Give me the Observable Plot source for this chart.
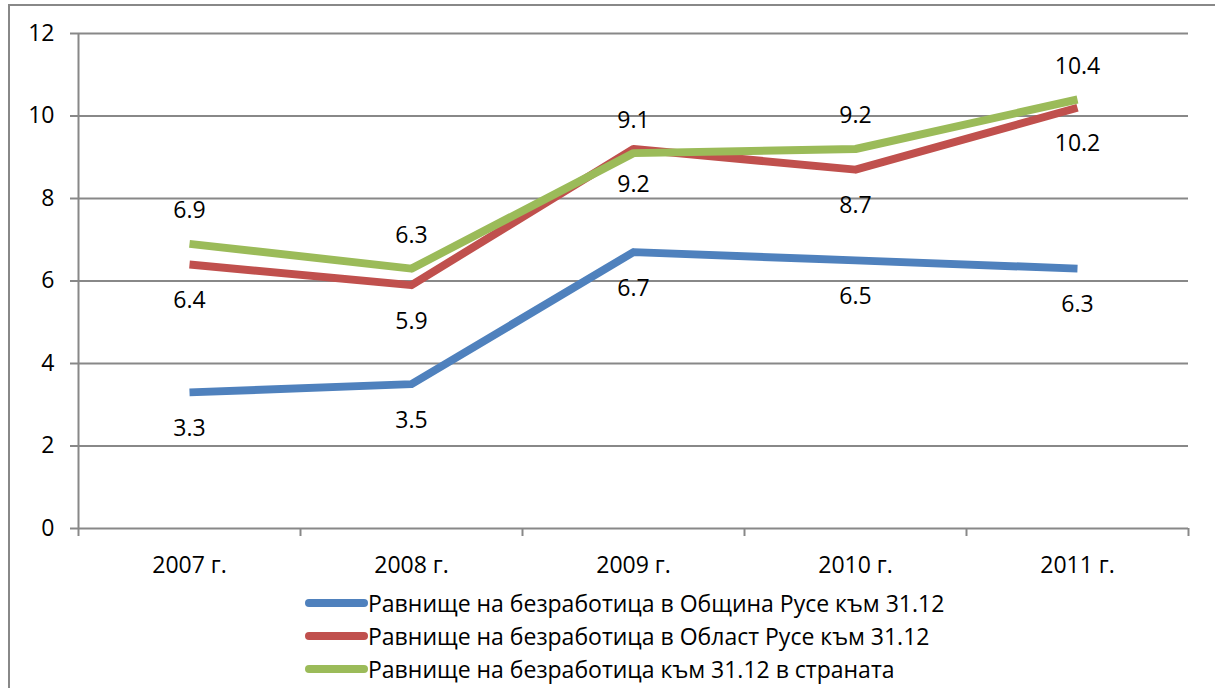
<!DOCTYPE html>
<html>
<head>
<meta charset="utf-8">
<script src="https://cdn.jsdelivr.net/npm/d3@7"></script>
<script src="https://cdn.jsdelivr.net/npm/@observablehq/plot@0.6"></script>
<style>
  html, body { margin: 0; padding: 0; background: #fff; }
  body { position: relative; width: 1215px; height: 688px; overflow: hidden; font-family: "Open Sans", sans-serif; }
  #frame { position: absolute; left: 8px; top: 4px; width: 1400px; height: 900px; border: 2px solid #888; box-sizing: border-box; }
  #chart { position: absolute; left: 0; top: 0; }
  #legend { position: absolute; left: 305px; top: 586px; }
  .row { display: flex; align-items: center; height: 33px; font-size: 23px; color: #000; white-space: nowrap; }
  .sw { width: 63px; height: 8px; border-radius: 4px; margin-right: 0; }
</style>
</head>
<body>
<div id="frame"></div>
<div id="chart"></div>
<div id="legend"></div>
<script>
const categories = ["2007 г.", "2008 г.", "2009 г.", "2010 г.", "2011 г."];
const seriesNames = [
  "Равнище на безработица в Община Русе към 31.12",
  "Равнище на безработица в Област Русе към 31.12",
  "Равнище на безработица към 31.12 в страната"
];
const obshtina = [3.3, 3.5, 6.7, 6.5, 6.3];
const oblast = [6.4, 5.9, 9.2, 8.7, 10.2];
const country = [6.9, 6.3, 9.1, 9.2, 10.4];
const colors = ["#4F81BD", "#C0504D", "#9BBB59"];
const yTicks = [0, 2, 4, 6, 8, 10, 12];

const allSeries = [obshtina, oblast, country];
const rows = [];
allSeries.forEach((vals, s) => vals.forEach((v, i) => rows.push({s, i, v})));

const gray = "#888";
const boundaries = d3.range(-0.5, categories.length, 1);

const chart = Plot.plot({
  width: 1215,
  height: 585,
  marginLeft: 78,
  marginRight: 27,
  marginTop: 33,
  marginBottom: 57,
  style: {fontFamily: "'Open Sans', sans-serif", fontSize: "23px", color: "#000", background: "transparent"},
  x: {type: "linear", domain: [-0.5, categories.length - 0.5], label: null},
  y: {domain: [0, 12], label: null},
  marks: [
    Plot.gridY(yTicks, {stroke: gray, strokeOpacity: 1, strokeWidth: 2}),
    Plot.ruleX([-0.5], {stroke: gray, strokeWidth: 2}),
    Plot.axisY({ticks: yTicks, tickSize: 8, tickPadding: 16, stroke: gray, strokeWidth: 2, fill: "#000", label: null, tickFormat: d => d}),
    Plot.axisX({ticks: boundaries, tickSize: 8, tickFormat: () => "", stroke: gray, strokeWidth: 2, label: null}),
    Plot.axisX({ticks: d3.range(categories.length), tickSize: 0, tickPadding: 28, fill: "#000", label: null, tickFormat: i => categories[i]}),
    ...allSeries.map((vals, s) =>
      Plot.line(rows.filter(d => d.s === s), {x: "i", y: "v", stroke: colors[s], strokeWidth: 8, strokeLinejoin: "round", strokeLinecap: "butt"})
    ),
    ...allSeries.map((vals, s) =>
      Plot.text(rows.filter(d => d.s === s), {x: "i", y: "v", text: d => d.v.toFixed(1), dy: s === 2 ? -33 : 36, fill: "#000", fontSize: 23})
    )
  ]
});
document.getElementById("chart").appendChild(chart);

const legend = document.getElementById("legend");
seriesNames.forEach((name, s) => {
  const row = document.createElement("div");
  row.className = "row";
  const sw = document.createElement("div");
  sw.className = "sw";
  sw.style.background = colors[s];
  const t = document.createElement("span");
  t.textContent = name;
  row.appendChild(sw);
  row.appendChild(t);
  legend.appendChild(row);
});
</script>
</body>
</html>
